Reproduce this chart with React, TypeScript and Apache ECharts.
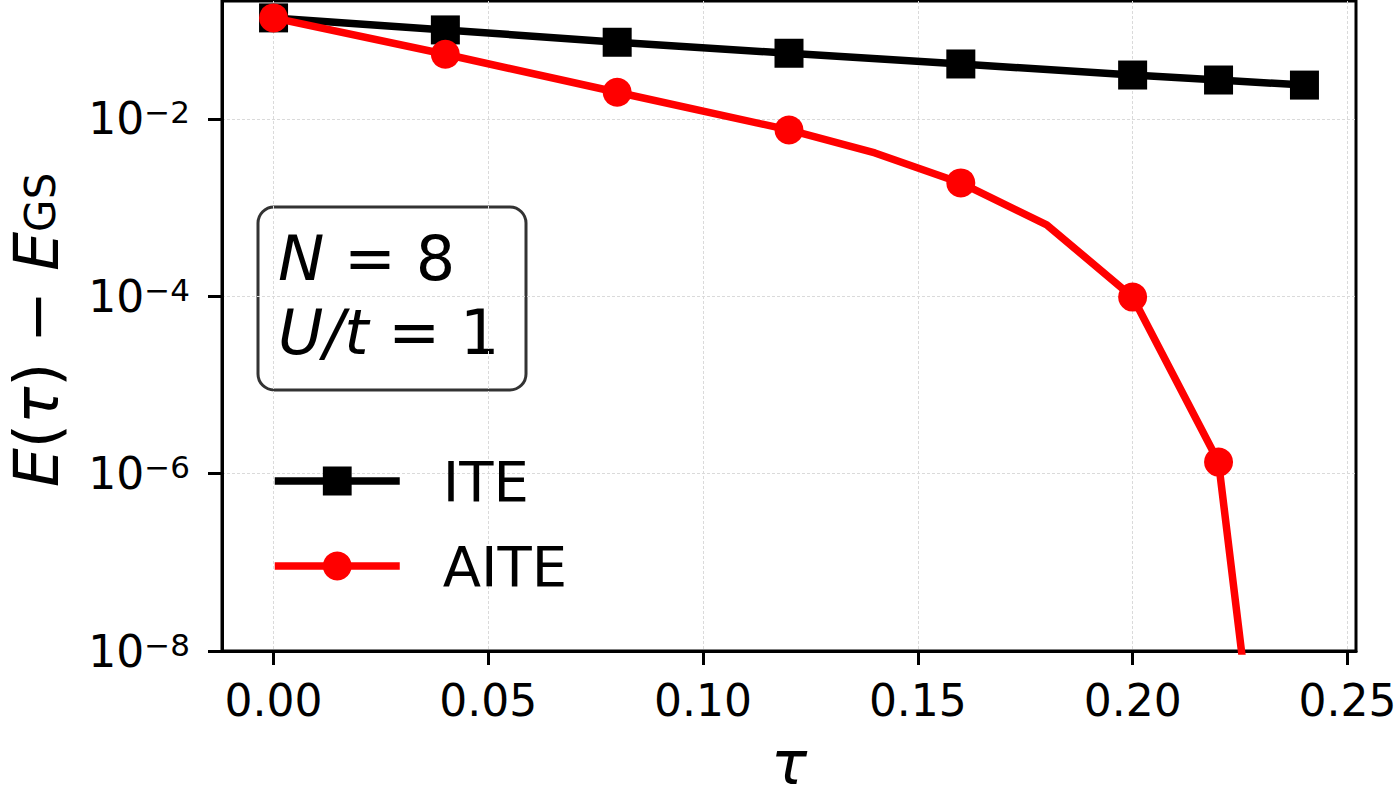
import { useEffect, useRef } from "react";
import * as echarts from "echarts";

// Imaginary-time evolution: energy error E(τ) − E_GS versus τ
const iteTau = [0, 0.04, 0.08, 0.12, 0.16, 0.2, 0.22, 0.24];
const iteGap = [0.138, 0.101, 0.0733, 0.0551, 0.0417, 0.0313, 0.0275, 0.0241];

const aiteTau = [0, 0.04, 0.08, 0.12, 0.14, 0.16, 0.18, 0.2, 0.22, 0.24];
const aiteGap = [0.138, 0.0537, 0.02, 0.00752, 0.00414, 0.0019, 0.00064, 0.000098, 1.35e-6, 1.4e-14];
const aiteMarked = [true, true, true, true, false, true, false, true, true, true];

const xTicks = [0, 0.05, 0.1, 0.15, 0.2, 0.25];
const yTicks = [1e-8, 1e-6, 1e-4, 1e-2];

const FONT = "DejaVu Sans";

export default function App() {
  const ref = useRef<HTMLDivElement>(null);

  useEffect(() => {
    const chart = echarts.init(ref.current!, null, { renderer: "svg" });

    const gridLine = { show: true, lineStyle: { color: "#dadada", width: 1, type: [3, 2] } };

    chart.setOption({
      animation: false,
      backgroundColor: "#ffffff",
      grid: {
        left: 222,
        right: 40,
        top: 1,
        bottom: 142,
        show: true,
        borderColor: "#000",
        borderWidth: 3,
        containLabel: false,
        outerBoundsMode: "none",
      },
      xAxis: {
        type: "value",
        min: -0.012,
        max: 0.252,
        name: "τ",
        nameLocation: "middle",
        nameGap: 88,
        nameTextStyle: { fontFamily: FONT, fontSize: 60, lineHeight: 48, fontStyle: "italic", color: "#000" },
        axisLine: { show: true, onZero: false, lineStyle: { color: "#000", width: 3 } },
        axisTick: { show: true, inside: false, length: 14, lineStyle: { color: "#000", width: 3 }, customValues: xTicks },
        axisLabel: {
          customValues: xTicks,
          margin: 27,
          fontFamily: FONT,
          fontSize: 44,
          color: "#000",
          formatter: (v: number) => v.toFixed(2),
        },
        splitLine: gridLine,
      },
      yAxis: {
        type: "log",
        logBase: 10,
        min: 1e-8,
        max: 0.214,
        axisLine: { show: true, onZero: false, lineStyle: { color: "#000", width: 3 } },
        axisTick: { show: true, inside: false, length: 14, lineStyle: { color: "#000", width: 3 }, customValues: yTicks },
        axisLabel: {
          customValues: yTicks,
          margin: 32,
          color: "#000",
          formatter: (v: number) => {
            const e = Math.round(Math.log10(v));
            return `{b|10}{s|${e < 0 ? "−" : ""}${Math.abs(e)}}`;
          },
          rich: {
            b: { fontFamily: FONT, fontSize: 44, lineHeight: 44, padding: [4, 0, 0, 0], verticalAlign: "bottom", color: "#000" },
            s: { fontFamily: FONT, fontSize: 31, lineHeight: 31, verticalAlign: "top", color: "#000" },
          },
        },
        splitLine: gridLine,
        minorTick: { show: false },
      },
      legend: {
        orient: "vertical",
        left: 271,
        top: 453,
        padding: 0,
        itemWidth: 125,
        itemHeight: 36,
        itemGap: 29,
        lineStyle: { width: 7.5 },
        textStyle: { fontFamily: FONT, fontSize: 56, color: "#000", padding: [0, 0, 0, 38] },
        data: ["ITE", "AITE"],
      },
      graphic: [
        {
          type: "text",
          x: 33.5,
          y: 330,
          rotation: Math.PI / 2,
          style: {
            text: "{i|E}{n|(}{i|τ}{n|) − }{i|E}{s|GS}",
            align: "center",
            verticalAlign: "middle",
            rich: {
              i: { fontFamily: FONT, fontSize: 62, fontStyle: "italic", lineHeight: 56, verticalAlign: "top", fill: "#000" },
              n: { fontFamily: FONT, fontSize: 62, lineHeight: 56, verticalAlign: "top", fill: "#000" },
              s: { fontFamily: FONT, fontSize: 42, lineHeight: 42, padding: [24, 0, 0, 0], verticalAlign: "bottom", fill: "#000" },
            },
          },
        },
        {
          type: "group",
          z: 100,
          children: [
            {
              type: "rect",
              shape: { x: 258, y: 207, width: 268, height: 183, r: 16 },
              style: { fill: "#fff", stroke: "#333", lineWidth: 3 },
            },
            {
              type: "text",
              x: 278,
              y: 258,
              style: {
                text: "{i|N}{n| = 8}",
                verticalAlign: "middle",
                rich: {
                  i: { fontFamily: FONT, fontSize: 62, fontStyle: "italic", fill: "#000" },
                  n: { fontFamily: FONT, fontSize: 62, fill: "#000" },
                },
              },
            },
            {
              type: "text",
              x: 278,
              y: 332,
              style: {
                text: "{i|U/t}{n| = 1}",
                verticalAlign: "middle",
                rich: {
                  i: { fontFamily: FONT, fontSize: 62, fontStyle: "italic", fill: "#000" },
                  n: { fontFamily: FONT, fontSize: 62, fill: "#000" },
                },
              },
            },
          ],
        },
      ],
      series: [
        {
          name: "ITE",
          type: "line",
          data: iteTau.map((t, i) => [t, iteGap[i]]),
          symbol: "rect",
          symbolSize: 29,
          showSymbol: true,
          clip: true,
          lineStyle: { color: "#000", width: 7.5, join: "round" },
          itemStyle: { color: "#000" },
          z: 2,
        },
        {
          name: "AITE",
          type: "line",
          data: aiteTau.map((t, i) =>
            aiteMarked[i] ? [t, aiteGap[i]] : { value: [t, aiteGap[i]], symbol: "none" }
          ),
          symbol: "circle",
          symbolSize: 29,
          showSymbol: true,
          clip: true,
          lineStyle: { color: "#ff0000", width: 7.5, join: "round" },
          itemStyle: { color: "#ff0000" },
          z: 3,
        },
      ],
    });

    return () => chart.dispose();
  }, []);

  return (
    <div
      ref={ref}
      style={{ position: "fixed", left: 0, top: 0, width: 1396, height: 793, background: "#fff" }}
    />
  );
}
